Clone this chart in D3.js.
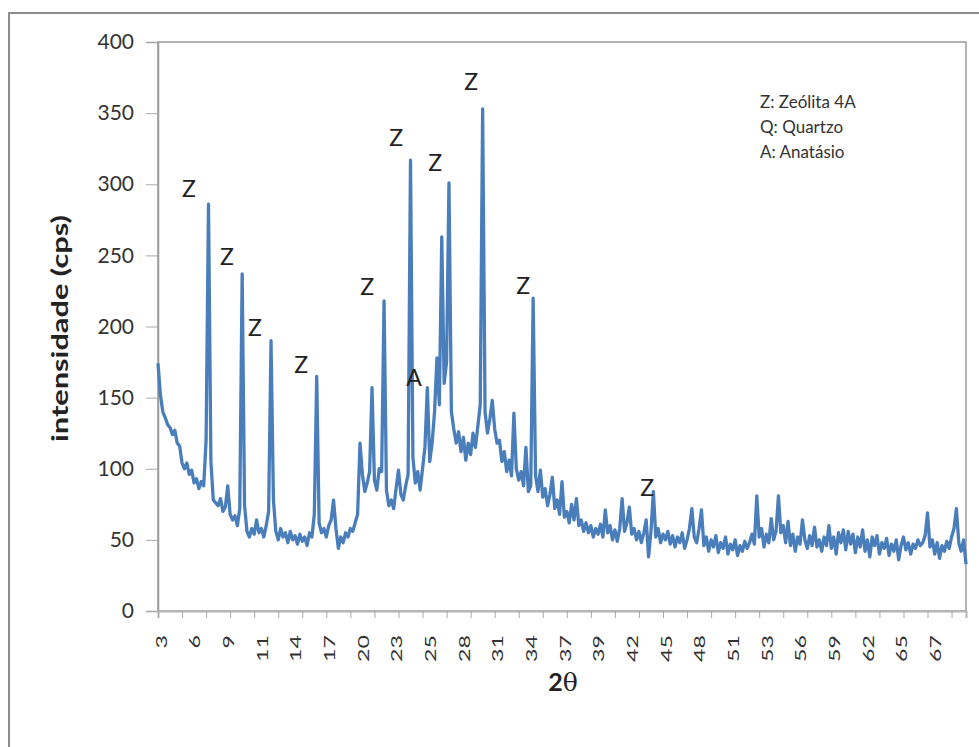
<!DOCTYPE html>
<html>
<head>
<meta charset="utf-8">
<script src="https://cdn.jsdelivr.net/npm/d3@7"></script>
<style>
body { margin: 0; background: #fff; }
svg text { font-family: Lato, "Open Sans", sans-serif; }
</style>
</head>
<body>
<svg id="chart" width="979" height="747"></svg>
<script>
// 2theta categories: 3.0, 3.2, ... 70.2
var thetaStart = 3, thetaStep = 0.2;

// intensity (cps), one value per category
var intensity = [
  174,152,140,136,131,129,124,127,118,116,104,100,104,96,99,90,93,86,91,88,120,286,105,78,
  76,74,79,70,73,88,68,64,67,60,72,237,74,56,
  52,58,54,64,55,58,52,60,70,190,78,56,
  50,58,52,55,48,56,50,53,47,54,49,52,46,55,52,68,165,62,55,
  58,52,60,64,78,58,44,52,48,55,52,58,56,62,68,
  118,96,84,90,98,157,92,85,100,98,218,85,74,78,72,86,99,
  82,78,88,96,317,108,90,98,85,100,115,157,105,118,140,178,145,263,160,175,
  301,140,128,118,126,112,122,106,118,110,125,115,130,145,353,140,125,135,148,128,
  118,120,105,112,98,106,95,139,100,92,98,88,115,84,88,220,
  95,84,99,80,86,74,82,94,72,78,
  68,91,66,70,62,75,64,79,60,64,
  56,62,55,60,52,58,54,61,52,71,
  55,60,50,57,49,58,79,56,62,73,
  54,58,50,56,48,55,64,38,56,84,
  52,58,48,54,50,56,47,53,45,52,
  48,55,44,50,58,72,52,48,58,71,
  46,52,42,50,45,53,41,48,44,52,
  40,47,43,50,39,46,42,49,44,48,
  54,47,81,52,58,45,54,48,65,50,
  56,81,55,60,48,63,46,54,42,52,
  47,64,50,44,53,46,59,45,50,42,
  52,46,60,44,52,40,55,48,57,43,
  56,47,54,41,52,45,57,42,50,38,
  52,46,53,40,48,44,51,39,47,42,
  50,36,46,52,43,48,40,47,44,50,
  46,48,53,69,45,50,40,48,37,46,
  42,49,44,52,58,72,48,42,50,33
];

var yTicks = [0, 50, 100, 150, 200, 250, 300, 350, 400];
var xTickLabels = ["3","6","9","11","14","17","20","23","25","28","31","34",
                   "37","39","42","45","48","51","53","56","59","62","65","67"];
var labelEvery = 14;   // categories between labels
var tickEvery = 10;    // categories between tick marks

// peak annotations (in data units)
var peakText  = ["Z","Z","Z","Z","Z","Z","Z","A","Z","Z","Z"];
var peakTheta = [5.58, 8.74, 11.07, 14.9, 20.39, 22.8, 26.05, 24.3, 29.04, 33.37, 43.68];
var peakValue = [297, 249, 199, 173, 228, 333, 315, 164, 372, 229, 87];

var legendLines = ["Z: Zeólita 4A", "Q: Quartzo", "A: Anatásio"];

var data = intensity.map(function(v, i) {
  return { theta: thetaStart + i * thetaStep, value: v };
});

var margin = { top: 42, right: 13, bottom: 136, left: 158 };
var svgWidth = 979, svgHeight = 747;
var width = svgWidth - margin.left - margin.right;
var height = svgHeight - margin.top - margin.bottom;

var svg = d3.select("#chart");

// outer chart border
svg.append("rect")
  .attr("x", 9).attr("y", 13)
  .attr("width", 1000).attr("height", 780)
  .attr("fill", "none")
  .attr("stroke", "#8c8c8c")
  .attr("stroke-width", 2);

var g = svg.append("g")
  .attr("transform", "translate(" + margin.left + "," + margin.top + ")");

var x = d3.scaleLinear()
  .domain([thetaStart, thetaStart + (intensity.length - 1) * thetaStep])
  .range([0, width]);

var y = d3.scaleLinear()
  .domain([0, 400])
  .range([height, 0]);

// plot area frame
g.append("rect")
  .attr("width", width).attr("height", height)
  .attr("fill", "none")
  .attr("stroke", "#9a9a9a")
  .attr("stroke-width", 1.5);

// y axis
var yAxis = g.append("g")
  .call(d3.axisLeft(y).tickValues(yTicks).tickSize(12).tickPadding(12));
yAxis.select(".domain").attr("stroke", "#9a9a9a").attr("stroke-width", 1.5);
yAxis.selectAll(".tick line").attr("stroke", "#a8a8a8");
yAxis.selectAll(".tick text")
  .attr("fill", "#333")
  .style("font-size", "21px");

// x axis: tick marks every tickEvery categories, labels every labelEvery
var tickThetas = d3.range(0, intensity.length, tickEvery).map(function(i) { return data[i].theta; });
var xAxis = g.append("g")
  .attr("transform", "translate(0," + height + ")")
  .call(d3.axisBottom(x).tickValues(tickThetas).tickSize(7).tickFormat(""));
xAxis.select(".domain").attr("stroke", "#b5b5b5").attr("stroke-width", 2);
xAxis.selectAll(".tick line").attr("stroke", "#a8a8a8");

g.append("g").selectAll("text")
  .data(xTickLabels)
  .enter().append("text")
  .attr("transform", function(d, k) {
    return "translate(" + (x(data[k * labelEvery].theta) + 3) + "," + (height + 24) + ") rotate(-90) scale(1.45,1)";
  })
  .attr("text-anchor", "end")
  .attr("dy", "0.36em")
  .attr("fill", "#333")
  .style("font-size", "16px")
  .text(function(d) { return d; });

// data line
var line = d3.line()
  .x(function(d) { return x(d.theta); })
  .y(function(d) { return y(d.value); });

g.append("path")
  .datum(data)
  .attr("fill", "none")
  .attr("stroke", "#4a7ebb")
  .attr("stroke-width", 3.3)
  .attr("stroke-linejoin", "round")
  .attr("d", line);

// peak labels
g.append("g").selectAll("text")
  .data(peakText)
  .enter().append("text")
  .attr("x", function(d, i) { return x(peakTheta[i]); })
  .attr("y", function(d, i) { return y(peakValue[i]); })
  .attr("text-anchor", "middle")
  .attr("dy", "0.36em")
  .attr("fill", "#222")
  .style("font-size", "23px")
  .text(function(d) { return d; });

// legend text box
svg.append("g").selectAll("text")
  .data(legendLines)
  .enter().append("text")
  .attr("x", 760)
  .attr("y", function(d, i) { return 108 + i * 25; })
  .attr("fill", "#333")
  .style("font-size", "17px")
  .text(function(d) { return d; });

// axis titles
svg.append("text")
  .attr("transform", "translate(60," + (margin.top + height / 2 + 2) + ") rotate(-90) scale(1.4,1)")
  .attr("text-anchor", "middle")
  .attr("dy", "0.36em")
  .attr("fill", "#222")
  .style("font-size", "22px")
  .style("font-weight", "bold")
  .text("intensidade (cps)");

var xTitle = svg.append("text")
  .attr("x", margin.left + width / 2 + 1)
  .attr("y", 691)
  .attr("text-anchor", "middle")
  .attr("fill", "#222")
  .style("font-size", "25px");
xTitle.append("tspan").style("font-weight", "bold").text("2");
xTitle.append("tspan").style("font-family", "'DejaVu Serif', serif").text("θ");
</script>
</body>
</html>
